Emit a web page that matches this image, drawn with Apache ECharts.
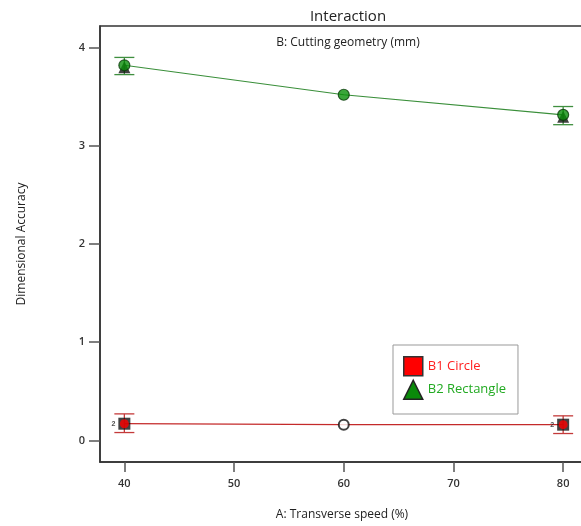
<!DOCTYPE html>
<html>
<head>
<meta charset="utf-8">
<script src="https://cdn.jsdelivr.net/npm/echarts@6/dist/echarts.min.js"></script>
<style>
  html, body { margin: 0; padding: 0; background: #fff; }
  #chart { width: 581px; height: 526px; }
</style>
</head>
<body>
<div id="chart"></div>
<script>
// A: Transverse speed (%)
const speed = [40, 60, 80];
// B1 Circle
const b1Mean = [0.17, 0.16, 0.16];
const b1Low = [0.08, null, 0.07];
const b1High = [0.27, null, 0.25];
// B2 Rectangle
const b2Mean = [3.82, 3.52, 3.315];
const b2Low = [3.725, null, 3.215];
const b2High = [3.90, null, 3.40];
const yTicks = [0, 1, 2, 3, 4];
const xTicks = [40, 50, 60, 70, 80];

const pairs = (ys) => speed.map((x, i) => [x, ys[i]]);
const ends = (ys) => [0, 2].map(i => [speed[i], ys[i]]);
const bars = (lo, hi) => [0, 2].map(i => [speed[i], lo[i], hi[i]]);

let chart = echarts.init(document.getElementById("chart"));

function errorBar(color) {
  return function (params, api) {
    let x = api.value(0);
    let top = api.coord([x, api.value(2)]);
    let bot = api.coord([x, api.value(1)]);
    let st = { stroke: color, lineWidth: 1.3 };
    return {
      type: "group",
      children: [
        { type: "line", shape: { x1: top[0], y1: top[1], x2: bot[0], y2: bot[1] }, style: st },
        { type: "line", shape: { x1: top[0] - 10, y1: top[1], x2: top[0] + 10, y2: top[1] }, style: st },
        { type: "line", shape: { x1: bot[0] - 10, y1: bot[1], x2: bot[0] + 10, y2: bot[1] }, style: st },
      ],
    };
  };
}

let option = {
  animation: false,
  title: [
    {
      text: "Interaction",
      left: 343, top: 4, textAlign: "center",
      textStyle: { fontFamily: "Open Sans", fontSize: 15, fontWeight: "normal", color: "#222" },
    },
    {
      text: "B: Cutting geometry (mm)",
      left: 343, top: 32, textAlign: "center",
      textStyle: { fontFamily: "Open Sans", fontSize: 12, fontWeight: "normal", color: "#222" },
    },
  ],
  legend: {
    orient: "vertical",
    left: 393, top: 345,
    padding: [11, 12, 14, 10],
    itemWidth: 19, itemHeight: 19, itemGap: 3,
    borderColor: "#999", borderWidth: 1,
    textStyle: { fontFamily: "Open Sans", fontSize: 13 },
    data: [
      { name: "B1 Circle", icon: "rect", itemStyle: { color: "#ff0000", borderColor: "#333", borderWidth: 1.5 }, textStyle: { color: "#ff2020" } },
      { name: "B2 Rectangle", icon: "triangle", itemStyle: { color: "#0a8a0a", borderColor: "#222", borderWidth: 1.5 }, textStyle: { color: "#22aa22" } },
    ],
  },
  grid: {
    left: 100, top: 26, width: 484, height: 436,
    outerBoundsMode: "none",
    containLabel: false,
    show: true, borderColor: "#333", borderWidth: 1.5,
  },
  xAxis: {
    type: "value",
    min: 37.78, max: 81.9,
    name: "A: Transverse speed (%)",
    nameLocation: "middle", nameGap: 47,
    nameTextStyle: { fontFamily: "Open Sans", fontSize: 12, color: "#222" },
    axisLine: { show: true, onZero: false, lineStyle: { color: "#333", width: 1.5 } },
    axisTick: { show: true, length: 10, customValues: xTicks, lineStyle: { color: "#555", width: 1.5 } },
    axisLabel: { customValues: xTicks, margin: 16, fontFamily: "Open Sans", fontWeight: 600, fontSize: 11, color: "#333" },
    splitLine: { show: false },
  },
  yAxis: {
    type: "value",
    min: -0.22, max: 4.22,
    name: "Dimensional Accuracy",
    nameLocation: "middle", nameGap: 72,
    nameTextStyle: { fontFamily: "Open Sans", fontSize: 12, color: "#222" },
    axisLine: { show: true, onZero: false, lineStyle: { color: "#333", width: 1.5 } },
    axisTick: { show: true, length: 11, customValues: yTicks, lineStyle: { color: "#555", width: 1.5 } },
    axisLabel: { customValues: yTicks, margin: 15, fontFamily: "Open Sans", fontWeight: 600, fontSize: 11, color: "#333" },
    splitLine: { show: false },
  },
  series: [
    {
      name: "B2 Rectangle", type: "line", data: pairs(b2Mean), symbol: "none",
      lineStyle: { color: "#3a8f3a", width: 1.2 }, itemStyle: { color: "#0a8a0a" }, z: 2,
    },
    {
      name: "B1 Circle", type: "line", data: pairs(b1Mean), symbol: "none",
      lineStyle: { color: "#c42a2a", width: 1.2 }, itemStyle: { color: "#ff0000" }, z: 2,
    },
    { name: "b2-err", type: "custom", data: bars(b2Low, b2High), renderItem: errorBar("#3f8f3f"), z: 3 },
    { name: "b1-err", type: "custom", data: bars(b1Low, b1High), renderItem: errorBar("#c43a3a"), z: 3 },
    {
      name: "b2-tri", type: "scatter", data: ends(b2Mean), symbol: "triangle", symbolSize: 12, symbolOffset: [0, 2],
      itemStyle: { color: "#111" }, z: 4,
    },
    {
      name: "b2-dot", type: "scatter", data: pairs(b2Mean), symbol: "circle", symbolSize: 11,
      itemStyle: { color: "#0a8f0a", borderColor: "#0b3b0b", borderWidth: 1.2 }, z: 5,
    },
    {
      name: "b1-sq", type: "scatter", data: ends(b1Mean), symbol: "rect", symbolSize: 12,
      itemStyle: { color: "#111" }, z: 4,
      label: { show: true, position: "left", distance: 3, formatter: "2", fontSize: 7, fontWeight: "bold", color: "#222" },
    },
    {
      name: "b1-dot", type: "scatter", data: ends(b1Mean), symbol: "circle", symbolSize: 9,
      itemStyle: { color: "#ff0000" }, z: 5,
    },
    {
      name: "center", type: "scatter", data: [[speed[1], b1Mean[1]]], symbol: "circle", symbolSize: 10,
      itemStyle: { color: "#fff", borderColor: "#111", borderWidth: 2 }, z: 5,
    },
  ],
};

chart.setOption(option);
</script>
</body>
</html>
